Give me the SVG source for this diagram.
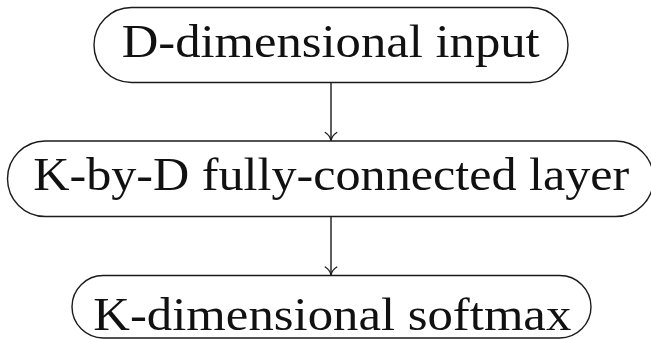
<svg xmlns="http://www.w3.org/2000/svg" width="651" height="339" viewBox="0 0 651 339">
  <style>
    .box { fill: #ffffff; stroke: #1a1a1a; stroke-width: 1.4; }
    .lbl { font-family: "Liberation Serif", "Times New Roman", serif; font-size: 47px; fill: #111111; }
    .wire { fill: none; stroke: #1a1a1a; stroke-width: 1.4; }
    .tip { fill: none; stroke: #1a1a1a; stroke-width: 1.3; stroke-linecap: round; }
  </style>
  <rect width="651" height="339" fill="#ffffff"/>

  <!-- flow connectors -->
  <g id="connectors">
    <line class="wire" x1="331" y1="82.5" x2="331" y2="140.5"/>
    <path class="tip" d="M 325.2,132.5 Q 330,135.5 331,140.5 Q 332,135.5 336.8,132.5"/>
    <line class="wire" x1="331" y1="216.5" x2="331" y2="275"/>
    <path class="tip" d="M 325.2,267 Q 330,270 331,275 Q 332,270 336.8,267"/>
  </g>

  <g id="node-input">
    <rect class="box" x="94" y="7.5" width="474" height="75" rx="37.5" ry="37.5"/>
    <text class="lbl" x="121.7" y="56.7" textLength="418" lengthAdjust="spacingAndGlyphs">D-dimensional input</text>
  </g>

  <g id="node-fc">
    <rect class="box" x="7.5" y="141" width="646" height="75.5" rx="37.75" ry="37.75"/>
    <text class="lbl" x="33.3" y="190" textLength="596" lengthAdjust="spacingAndGlyphs">K-by-D fully-connected layer</text>
  </g>

  <g id="node-softmax">
    <rect class="box" x="72" y="275.5" width="519" height="62.5" rx="31.25" ry="31.25"/>
    <text class="lbl" x="93.3" y="330" textLength="478" lengthAdjust="spacingAndGlyphs">K-dimensional softmax</text>
  </g>
</svg>
